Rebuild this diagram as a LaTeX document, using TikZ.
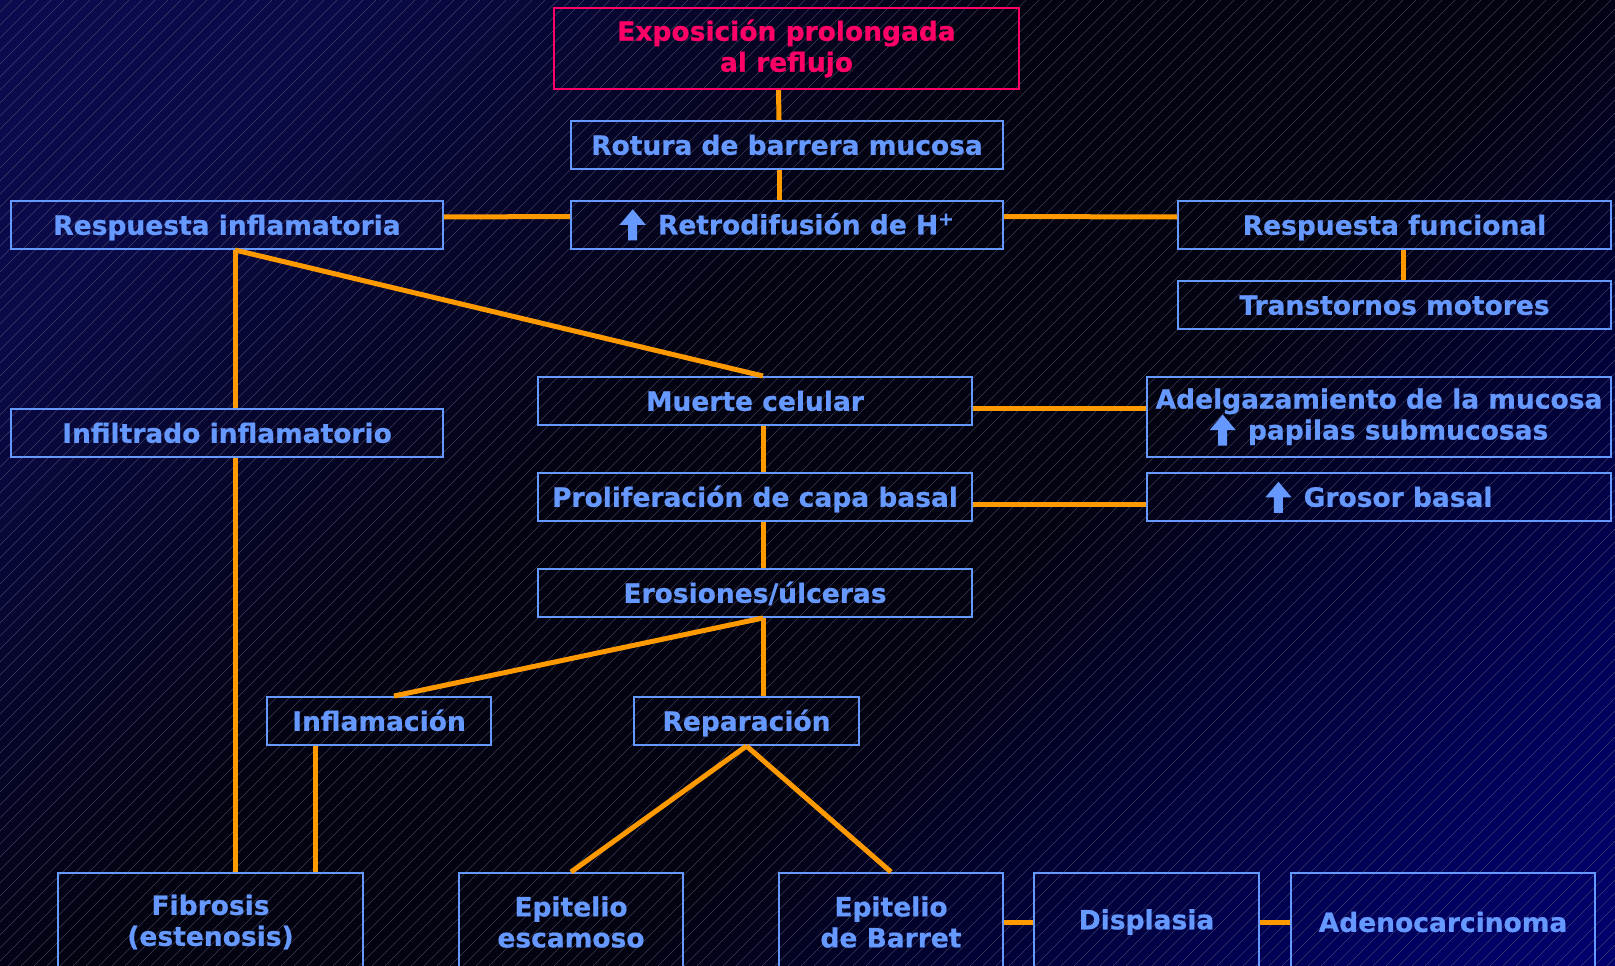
\documentclass[tikz,border=0pt]{standalone}
\usepackage{fontspec}
\setmainfont{DejaVu Sans}[BoldFeatures={FakeBold=0.6}]
\usetikzlibrary{positioning}
\definecolor{boxblue}{HTML}{6699FF}
\definecolor{hotpink}{HTML}{FF0066}
\definecolor{linkorange}{HTML}{FF9900}
\definecolor{navytop}{HTML}{0C0C5A}
\definecolor{navybot}{HTML}{000090}
\definecolor{nearblack}{HTML}{020210}
\definecolor{hatchgray}{HTML}{5A5A78}
\pgfdeclareverticalshading{backdrop}{100bp}{color(0bp)=(navybot); color(22bp)=(navybot!65!black); color(42bp)=(nearblack); color(57bp)=(nearblack); color(76bp)=(navytop!80!black); color(100bp)=(navytop)}
\newcommand{\uparr}{\tikz[baseline=0pt, x=1pt, y=1pt]\fill[boxblue] (-4.5,-6) -- (-4.5,9.5) -- (-13,9.5) -- (0,25) -- (13,9.5) -- (4.5,9.5) -- (4.5,-6) -- cycle;\hspace{3pt}}
\tikzset{
	box/.style = {draw=boxblue, line width=2pt, text=boxblue, inner sep=0pt,
		font=\fontsize{26.5}{31}\selectfont\bfseries, align=center, minimum height=48pt},
	cell/.style = {box, text height=26pt, text depth=6.5pt},
	topbox/.style = {box, draw=hotpink, text=hotpink},
	lowbox/.style = {box, minimum height=98pt},
	link/.style = {draw=linkorange, line width=5pt},
	hatch/.style = {draw=hatchgray, line width=0.6pt, opacity=0.65}
}

\begin{document}
\begin{tikzpicture}[x=1pt, y=-1pt]
	\useasboundingbox (0,0) rectangle (1615,966);
	\clip (0,0) rectangle (1615,966);
	\shade[shading=backdrop, shading angle=45] (0,0) rectangle (1615,966);
	\foreach \i in {-980,-967,...,1615}
		\draw[hatch] (\i,966) -- ++(966,-966);

	\node[topbox, minimum width=465pt, minimum height=81pt] (expo) at (786.5,48.5) {Exposición prolongada\\al reflujo};
	\node[cell, minimum width=432pt] (rot) at (787,145) {Rotura de barrera mucosa};
	\node[cell, minimum width=432pt] (retro) at (787,224.5) {\uparr\ Retrodifusión de H\textsuperscript{+}};
	\node[cell, minimum width=432pt] (rinfl) at (227,225) {Respuesta inflamatoria};
	\node[cell, minimum width=433pt] (rfunc) at (1394.5,225) {Respuesta funcional};
	\node[cell, minimum width=433pt] (trans) at (1394.5,305) {Transtornos motores};
	\node[cell, minimum width=432pt] (infil) at (227,433) {Infiltrado inflamatorio};
	\node[cell, minimum width=434pt] (muerte) at (755,401) {Muerte celular};
	\node[cell, minimum width=434pt] (prolif) at (755,497) {Proliferación de capa basal};
	\node[cell, minimum width=434pt] (eros) at (755,593) {Erosiones/úlceras};
	\node[box, minimum width=464pt, minimum height=80pt] (adelg) at (1379,417) {Adelgazamiento de la mucosa\\\uparr\ papilas submucosas};
	\node[cell, minimum width=464pt] (grosor) at (1379,497) {\uparr\ Grosor basal};
	\node[cell, minimum width=224pt] (inflam) at (379,721) {Inflamación};
	\node[cell, minimum width=225pt] (repar) at (746.5,721) {Reparación};
	\node[lowbox, minimum width=305pt] (fibro) at (210.5,922) {Fibrosis\\(estenosis)};
	\node[lowbox, minimum width=224pt] (escam) at (571,922) {Epitelio\\escamoso};
	\node[lowbox, minimum width=224pt] (barret) at (891,922) {Epitelio\\de Barret};
	\node[lowbox, minimum width=225pt] (displ) at (1146.5,922) {Displasia};
	\node[lowbox, minimum width=304pt] (adeno) at (1443,922) {Adenocarcinoma};

	\draw[link] ([xshift=-8pt]expo.south) -- ([xshift=-8pt]rot.north);
	\draw[link] ([xshift=-8pt]rot.south) -- ([xshift=-8pt]retro.north);
	\draw[link] ([yshift=8pt]rinfl.east) -- ([yshift=8pt]retro.west);
	\draw[link] ([yshift=8pt]retro.east) -- ([yshift=8pt]rfunc.west);
	\draw[link] ([xshift=8.5pt]rfunc.south) -- ([xshift=8.5pt]trans.north);
	\draw[link] ([xshift=8pt]rinfl.south) -- ([xshift=8pt]infil.north);
	\draw[link] ([xshift=8pt]infil.south) -- ([xshift=8pt]infil.south |- fibro.north);
	\draw[link] ([xshift=8pt]rinfl.south) -- ([xshift=8pt]muerte.north);
	\draw[link] ([xshift=8pt]muerte.south) -- ([xshift=8pt]prolif.north);
	\draw[link] ([xshift=8pt]prolif.south) -- ([xshift=8pt]eros.north);
	\draw[link] ([xshift=8pt]eros.south) -- ([xshift=8pt]eros.south |- repar.north);
	\draw[link] ([xshift=8pt]eros.south) -- ([xshift=15pt]inflam.north);
	\draw[link] ([xshift=-64pt]inflam.south) -- ([xshift=-64pt]inflam.south |- fibro.north);
	\draw[link] ([yshift=-7pt]muerte.east) -- ([yshift=-7pt]muerte.east -| adelg.west);
	\draw[link] ([yshift=-7pt]prolif.east) -- ([yshift=-7pt]grosor.west);
	\draw[link] (repar.south) -- (escam.north);
	\draw[link] (repar.south) -- (barret.north);
	\draw[link] (barret.east) -- (displ.west);
	\draw[link] (displ.east) -- (adeno.west);
\end{tikzpicture}
\end{document}
